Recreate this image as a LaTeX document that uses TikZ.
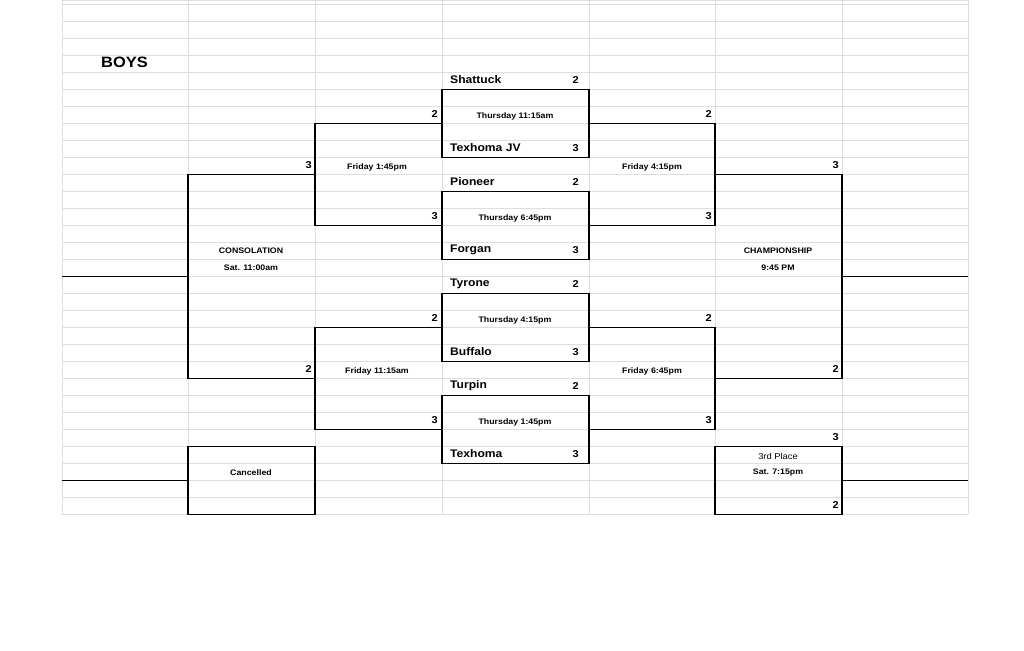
\documentclass[tikz,border=0pt]{standalone}
\usepackage{fontspec}
\setmainfont{Liberation Sans}[FakeStretch=1.1]
\begin{document}
\begin{tikzpicture}[x=1pt,y=-1pt,
  grid/.style={draw=black!13,line width=0.6pt},
  br/.style={draw=black,line width=1.5pt},
  team/.style={font=\bfseries\fontsize{11}{12}\selectfont,anchor=west,inner sep=0},
  sc/.style={font=\bfseries\fontsize{10}{11}\selectfont,anchor=east,inner sep=0},
  tm/.style={font=\bfseries\fontsize{8}{9}\selectfont,inner sep=0},
  lbl/.style={font=\bfseries\fontsize{8}{9}\selectfont,inner sep=0}]
\useasboundingbox (0,0) rectangle (1024,650);
\fill[white] (0,0) rectangle (1024,650);
\def\R#1{4.3+17*(#1)}
% grid
\draw[grid] (62,0) -- (968,0);
\foreach \k in {0,...,30} \draw[grid] (62,{\R{\k}}) -- (968,{\R{\k}});
\foreach \x in {62,188,315,442,589,715,842,968} \draw[grid] (\x,0) -- (\x,{\R{30}});
% title
\node[font=\bfseries\fontsize{15}{16}\selectfont,anchor=west,inner sep=0] (boys) at (101,{\R{3.4}}) {BOYS};
% first round boxes
\foreach \t/\b in {5/9,11/15,17/21,23/27} \draw[br] (442,{\R{\t}}) rectangle (589,{\R{\b}});
\foreach \n/\k/\s [count=\i] in {Shattuck/4/2,Texhoma JV/8/3,Pioneer/10/2,Forgan/14/3,Tyrone/16/2,Buffalo/20/3,Turpin/22/2,Texhoma/26/3}{
  \node[team] (t\i) at (450,{\R{\k+0.45}}) {\n};
  \node[sc] (s\i) at (579,{\R{\k+0.45}}) {\s};}
\foreach \txt/\k [count=\i] in {Thursday 11:15am/6.5,Thursday 6:45pm/12.5,Thursday 4:15pm/18.5,Thursday 1:45pm/24.5}
  \node[tm] (th\i) at (515,{\R{\k}+1.5}) {\txt};
% second round brackets
\foreach \a/\b in {7/13,19/25}{
  \draw[br] (442,{\R{\a}}) -- (315,{\R{\a}}) -- (315,{\R{\b}}) -- (442,{\R{\b}});
  \draw[br] (589,{\R{\a}}) -- (715,{\R{\a}}) -- (715,{\R{\b}}) -- (589,{\R{\b}});}
\node[lbl] (f1) at (377,{\R{9.5}+2}) {Friday 1:45pm};
\node[lbl] (f2) at (377,{\R{21.5}+2}) {Friday 11:15am};
\node[lbl] (f3) at (652,{\R{9.5}+2}) {Friday 4:15pm};
\node[lbl] (f4) at (652,{\R{21.5}+2}) {Friday 6:45pm};
\node[sc] (a1) at (438,{\R{6.45}}) {2};
\node[sc] (a2) at (438,{\R{12.45}}) {3};
\node[sc] (a3) at (438,{\R{18.45}}) {2};
\node[sc] (a4) at (438,{\R{24.45}}) {3};
\node[sc] (b1) at (712,{\R{6.45}}) {2};
\node[sc] (b2) at (712,{\R{12.45}}) {3};
\node[sc] (b3) at (712,{\R{18.45}}) {2};
\node[sc] (b4) at (712,{\R{24.45}}) {3};
% final brackets
\draw[br] (315,{\R{10}}) -- (188,{\R{10}}) -- (188,{\R{22}}) -- (315,{\R{22}});
\draw[br] (62,{\R{16}}) -- (188,{\R{16}});
\draw[br] (715,{\R{10}}) -- (842,{\R{10}}) -- (842,{\R{22}}) -- (715,{\R{22}});
\draw[br] (842,{\R{16}}) -- (968,{\R{16}});
\node[sc] (c1) at (312,{\R{9.45}}) {3};
\node[sc] (c2) at (312,{\R{21.45}}) {2};
\node[sc] (d1) at (839,{\R{9.45}}) {3};
\node[sc] (d2) at (839,{\R{21.45}}) {2};
\node[lbl] (cons) at (251,{\R{14.5}}) {CONSOLATION};
\node[lbl] (cons2) at (251,{\R{15.5}}) {Sat. 11:00am};
\node[lbl] (ch) at (778,{\R{14.5}}) {CHAMPIONSHIP};
\node[lbl] (ch2) at (778,{\R{15.5}}) {9:45 PM};
% bottom boxes
\draw[br] (188,{\R{26}}) rectangle (315,{\R{30}});
\draw[br] (62,{\R{28}}) -- (188,{\R{28}});
\draw[br] (715,{\R{26}}) rectangle (842,{\R{30}});
\draw[br] (842,{\R{28}}) -- (968,{\R{28}});
\node[lbl] (can) at (251,{\R{27.5}+1}) {Cancelled};
\node[font=\fontsize{8.5}{9}\selectfont,inner sep=0] (tp) at (778,{\R{26.5}+1.5}) {3rd Place};
\node[lbl] (tp2) at (778,{\R{27.5}+1}) {Sat. 7:15pm};
\node[sc] (e1) at (839,{\R{25.45}}) {3};
\node[sc] (e2) at (839,{\R{29.45}}) {2};
\end{tikzpicture}
\end{document}
